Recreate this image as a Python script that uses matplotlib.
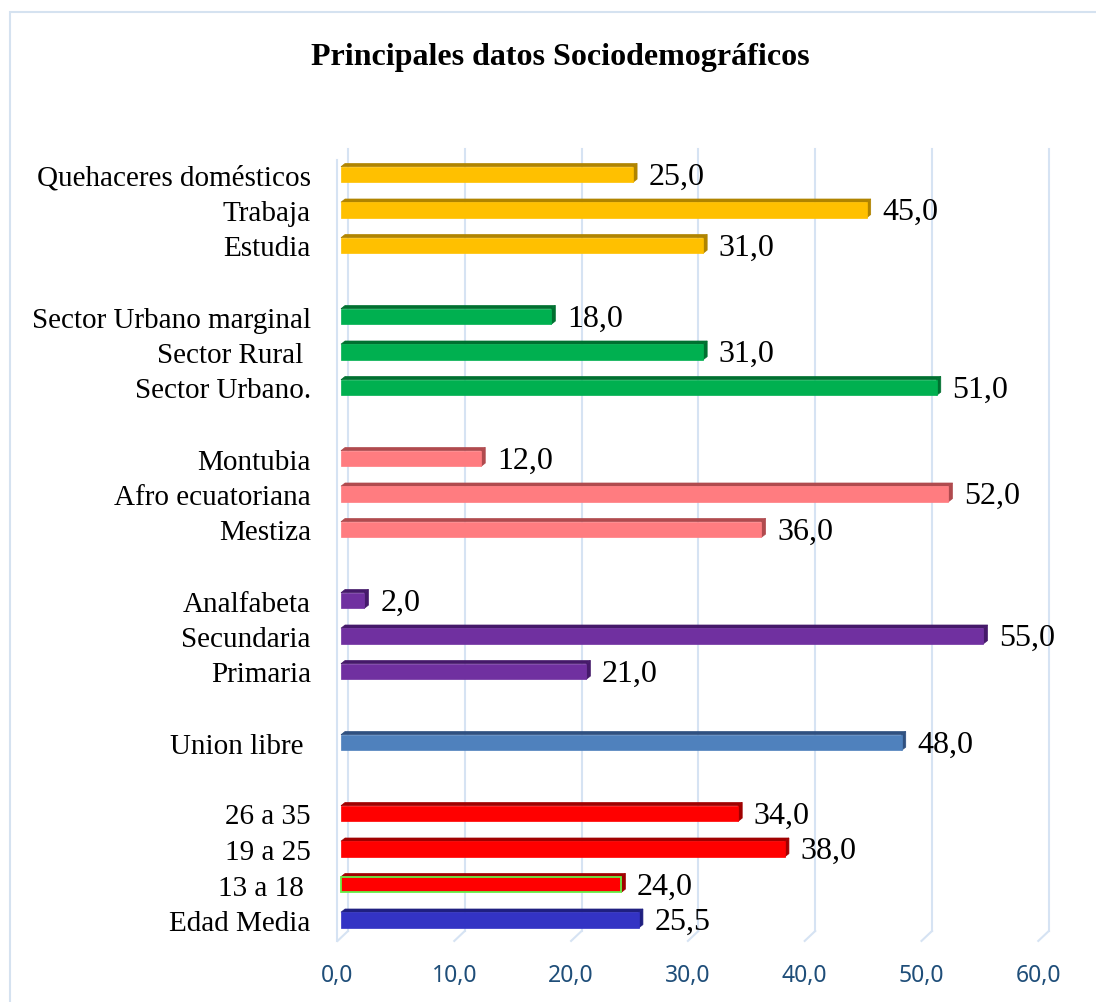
import matplotlib.pyplot as plt
from matplotlib.patches import Rectangle, Polygon

# *** data, bottom to top ***
categories = ["Edad Media", "13 a 18 ", "19 a 25", "26 a 35",
              "Union libre ",
              "Primaria", "Secundaria", "Analfabeta",
              "Mestiza", "Afro ecuatoriana", "Montubia",
              "Sector Urbano.", "Sector Rural ", "Sector Urbano marginal",
              "Estudia", "Trabaja", "Quehaceres domésticos"]
values = [25.5, 24.0, 38.0, 34.0,
          48.0,
          21.0, 55.0, 2.0,
          36.0, 52.0, 12.0,
          51.0, 31.0, 18.0,
          31.0, 45.0, 25.0]
group = [0, 1, 1, 1, 2, 3, 3, 3, 4, 4, 4, 5, 5, 5, 6, 6, 6]
group_colors = ["#3333C4", "#FF0000", "#4F81BD", "#7030A0", "#FF7C80", "#00B050", "#FFC000"]
group_dark = ["#1F1F80", "#A00000", "#2F5080", "#45196A", "#B04A4E", "#007030", "#B08400"]
xticks = [0, 10, 20, 30, 40, 50, 60]

GRID = "#D6E3F3"


def fmt(v):
    return "{0:.1f}".format(v).replace(".", ",")


def slot_positions(groups):
    """one empty slot between groups (edad media sits right under the age ranges)"""
    pos = []
    y = 0
    prev = groups[0]
    for g in groups:
        if g != prev and not (prev == 0 and g == 1):
            y += 1
        pos.append(y)
        y += 1
        prev = g
    return pos


def main():
    W, H = 1096, 1003
    fig = plt.figure(figsize=(W / 100, H / 100), dpi=100)
    # x: 0 -> px 341, 11.68 px per unit ; y: slot 0 -> px 921, 35.5 px per slot
    unit = 11.68
    x0_px, xmin, xmax = 341, -0.5, 61
    ymin, ymax = -0.59, 21.72
    left_px = x0_px + xmin * unit
    right_px = x0_px + xmax * unit
    bot_px = 921 - ymin * 35.5
    top_px = 921 - ymax * 35.5
    ax = fig.add_axes([left_px / W, 1 - bot_px / H, (right_px - left_px) / W, (bot_px - top_px) / H])

    # outer chart frame
    fig.patches.append(Rectangle((10 / W, -0.05), 1.2, 1 - 13 / H + 0.05,
                                 transform=fig.transFigure, fill=False,
                                 edgecolor="#D5E2F0", linewidth=1.5))

    ypos = slot_positions(group)
    h = 0.44
    depth_x, depth_y = 0.35, 0.09

    # back wall gridlines with a small 3D floor
    for xt in xticks:
        ax.plot([xt + 0.6, xt + 0.6], [-0.31, ymax], color=GRID, lw=1.5, zorder=0, clip_on=False)
        ax.plot([xt + 0.6, xt - 0.3], [-0.31, ymin], color=GRID, lw=1.5, zorder=0, clip_on=False)
    ax.plot([-0.3, -0.3], [ymin, 21.4], color=GRID, lw=1.5, zorder=0, clip_on=False)

    for y, v, g, lab in zip(ypos, values, group, categories):
        c = group_colors[g]
        d = group_dark[g]
        # top face
        ax.add_patch(Polygon([(0, y + h / 2), (depth_x, y + h / 2 + depth_y),
                              (v + depth_x, y + h / 2 + depth_y), (v, y + h / 2)],
                             closed=True, facecolor=d, edgecolor=d, lw=0.5, zorder=2))
        # right cap
        ax.add_patch(Polygon([(v, y - h / 2), (v + depth_x, y - h / 2 + depth_y),
                              (v + depth_x, y + h / 2 + depth_y), (v, y + h / 2)],
                             closed=True, facecolor=d, edgecolor=d, lw=0.5, zorder=2))
        if lab.strip() == "13 a 18":
            ax.barh(y, v, height=h, color=c, edgecolor="#66EE44", linewidth=1.3, zorder=3)
        else:
            ax.barh(y, v, height=h, color=c, edgecolor=c, linewidth=0.5, zorder=3)
        ax.text(v + 1.35, y - 0.05, fmt(v), ha="left", va="center",
                fontsize=23, family="Liberation Serif", color="black")

    ax.set_yticks(ypos)
    ax.set_yticklabels(categories, fontsize=21, family="Liberation Serif")
    # tick labels sit on the front edge of the floor
    ax.set_xticks([xt - 0.3 for xt in xticks])
    ax.set_xticklabels([fmt(x) for x in xticks], fontsize=16.5, family="Noto Sans", color="#1F4E79")
    ax.tick_params(axis="y", length=0, pad=17.5)
    ax.tick_params(axis="x", length=0, pad=16)
    ax.set_xlim(xmin, xmax)
    ax.set_ylim(ymin, ymax)
    for s in ax.spines.values():
        s.set_visible(False)

    fig.text(560 / W, 1 - 57 / H, "Principales datos Sociodemográficos",
             ha="center", va="center", fontsize=23, fontweight="bold", family="Liberation Serif")

    fig.savefig("out.png", dpi=100)
    return True


if __name__ == "__main__":
    main()
